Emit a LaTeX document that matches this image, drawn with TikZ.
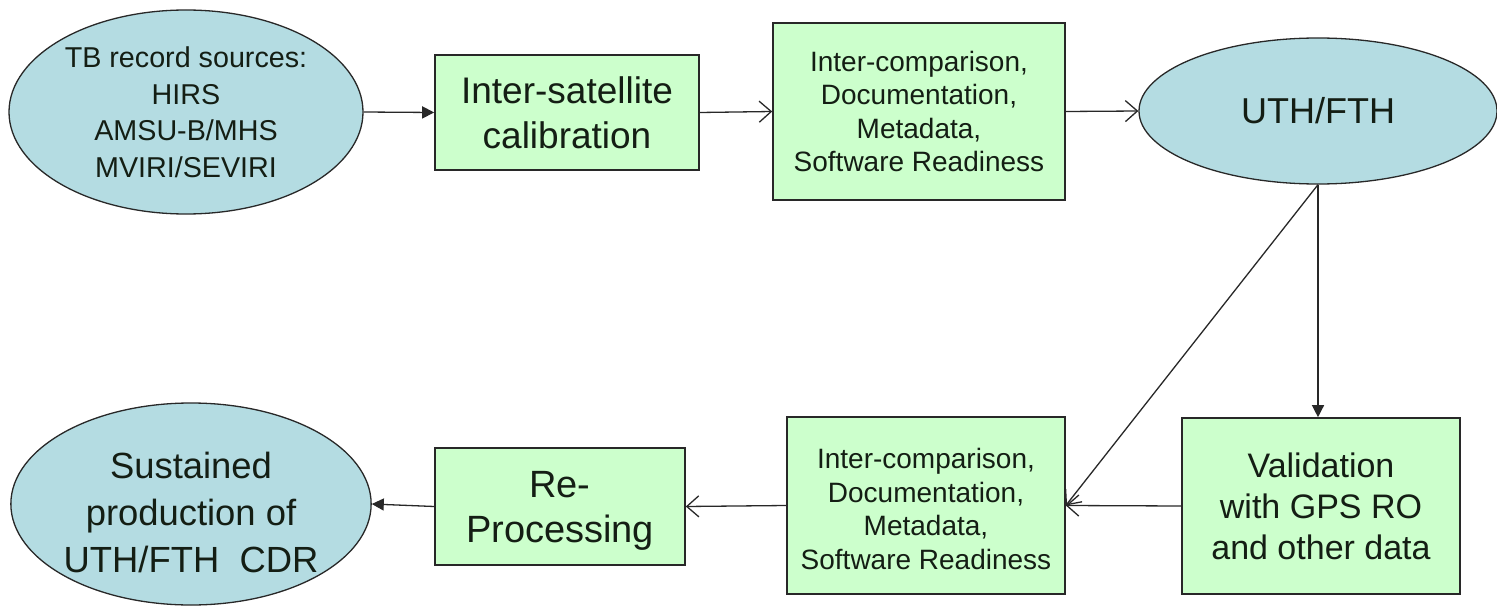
\documentclass[tikz,border=0pt]{standalone}
\usepackage{fontspec}
\setmainfont{Liberation Sans}
\usetikzlibrary{shapes.geometric,arrows.meta}
\definecolor{boxgreen}{RGB}{204,255,204}
\definecolor{ellblue}{RGB}{180,220,226}
\definecolor{edge}{RGB}{40,40,40}
\definecolor{txt}{RGB}{20,30,20}
\tikzset{
  greenbox/.style={draw=edge, line width=1.6pt, fill=boxgreen, rectangle, inner sep=0pt, align=center, text=txt},
  blueell/.style={draw=edge, line width=1.3pt, fill=ellblue, ellipse, inner sep=0pt, align=center, text=txt},
  conn/.style={draw=edge, line width=1.3pt},
  solidtip/.style={conn, -{Triangle[length=12pt,width=12pt]}},
  opentip/.style={conn, -{Straight Barb[length=12pt,width=21pt,line width=1.3pt]}},
  fsmall/.style={font=\fontsize{28}{33.5}\selectfont},
}
\begin{document}
\begin{tikzpicture}[x=1pt,y=-1pt]
\useasboundingbox (0,0) rectangle (1497,607);
\fill[white] (0,0) rectangle (1497,607);

\node[blueell, minimum width=354pt, minimum height=204pt, font=\fontsize{28.7}{36.5}\selectfont] (tb) at (186,112)
  {TB record sources:\\HIRS\\AMSU-B/MHS\\MVIRI/SEVIRI};
\node[greenbox, minimum width=264pt, minimum height=115pt, font=\fontsize{37}{45}\selectfont] (cal) at (567,112.5)
  {Inter-satellite\\calibration};
\node[greenbox, fsmall, minimum width=292pt, minimum height=177pt] (ic1) at (919,111.5)
  {Inter-comparison,\\Documentation,\\Metadata,\\Software Readiness};
\node[blueell, minimum width=358pt, minimum height=146pt, font=\fontsize{36}{44}\selectfont] (uth) at (1318,111)
  {UTH/FTH};
\node[greenbox, minimum width=278pt, minimum height=176pt, font=\fontsize{34}{41}\selectfont] (val) at (1321,506)
  {Validation\\with GPS RO\\and other data};
\node[greenbox, fsmall, minimum width=278pt, minimum height=177pt] (ic2) at (926,505.5)
  {\rule{0pt}{27pt}Inter-comparison,\\Documentation,\\Metadata,\\Software Readiness};
\node[greenbox, minimum width=250pt, minimum height=117pt, font=\fontsize{38}{45}\selectfont] (re) at (560,506.5)
  {\rule{0pt}{34pt}Re-\\Processing};
\node[blueell, minimum width=344pt, minimum height=202pt, font=\fontsize{36.4}{47}\selectfont] (sus) at (191,504)
  {\rule{0pt}{44pt}Sustained\\production of\\UTH/FTH\ \ CDR};

\draw[solidtip] (tb.east) -- (cal.west);
\draw[opentip] (cal.east) -- (ic1.west);
\draw[opentip] (ic1.east) -- (uth.west);
\draw[solidtip] (uth.south) -- (uth.south |- val.north);
\draw[opentip] (uth.south) -- (ic2.east);
\draw[opentip] (val.west) -- (ic2.east);
\draw[opentip] (ic2.west) -- (re.east);
\draw[solidtip] (re.west) -- (sus.east);
\end{tikzpicture}
\end{document}
